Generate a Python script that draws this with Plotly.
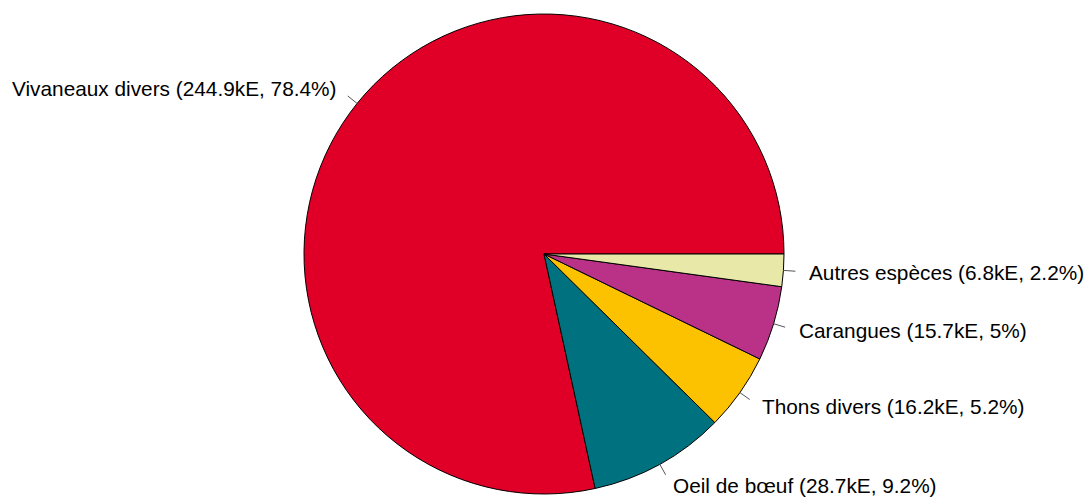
import math
import plotly.graph_objects as go

labels = ["Vivaneaux divers", "Oeil de bœuf", "Thons divers", "Carangues", "Autres espèces"]
values = [244.9, 28.7, 16.2, 15.7, 6.8]
pct_labels = ["78.4%", "9.2%", "5.2%", "5%", "2.2%"]
colors = ["#E00027", "#00727F", "#FCC200", "#B93287", "#E8E8A8"]

W, H = 1090, 498
cx, cy, R = 544, 254, 240

total = sum(values)
# plotly: with counterclockwise direction the first slice ends (clockwise sense) at `rotation`+its angle;
# we want the first slice to start at 3 o'clock going counterclockwise (like R's pie)
rotation = 90 - 360 * values[0] / total

fig = go.Figure(go.Pie(
    labels=labels, values=values, sort=False, direction="counterclockwise",
    rotation=rotation, textinfo="none", hoverinfo="label+value+percent",
    marker=dict(colors=colors, line=dict(color="black", width=1)),
    domain=dict(x=[(cx - R) / W, (cx + R) / W], y=[(H - cy - R) / H, (H - cy + R) / H]),
    showlegend=False,
))

cum = 0.0
annotations = []
shapes = []
for lab, v, p in zip(labels, values, pct_labels):
    mid = 2 * math.pi * (cum + v / 2) / total
    cum += v
    c, s = math.cos(mid), math.sin(mid)
    x1, y1 = cx + R * c, cy - R * s
    x2, y2 = cx + 1.05 * R * c, cy - 1.05 * R * s
    xt, yt = cx + 1.1 * R * c, cy - 1.1 * R * s
    shapes.append(dict(type="line", xref="paper", yref="paper",
                       x0=x1 / W, y0=1 - y1 / H, x1=x2 / W, y1=1 - y2 / H,
                       line=dict(color="#555555", width=1)))
    annotations.append(dict(
        x=xt / W, y=1 - yt / H, xref="paper", yref="paper",
        text=f"{lab} ({v}kE, {p})", showarrow=False,
        xanchor="left" if c > 0 else "right", yanchor="middle",
        font=dict(family="Liberation Sans, Arial", size=20.8, color="black"),
    ))

fig.update_layout(
    width=W, height=H, margin=dict(l=0, r=0, t=0, b=0),
    paper_bgcolor="white", plot_bgcolor="white",
    annotations=annotations, shapes=shapes,
)
fig.write_html("out.html", config={"displayModeBar": False},
               post_script="document.body.style.margin='0';document.body.style.overflow='hidden';")
